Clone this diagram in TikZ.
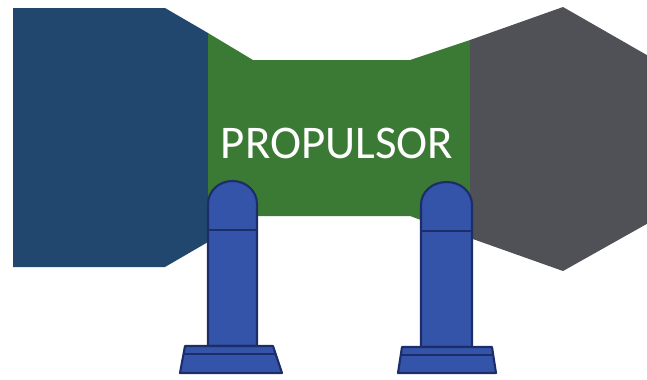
\documentclass[tikz,border=0pt]{standalone}
\usepackage{fontspec}
\setmainfont{Carlito}
\usepackage{xcolor}
\usepackage{tikz}
\definecolor{intake}{HTML}{22476F}
\definecolor{duct}{HTML}{3B7A34}
\definecolor{nozzle}{HTML}{4F5157}
\definecolor{strut}{HTML}{3354A8}
\definecolor{strutline}{HTML}{1C2D6A}
\tikzset{
  bodypart/.style={draw=none},
  strutpart/.style={fill=strut,draw=strutline,line width=1.8pt,line join=round},
  bodylabel/.style={text=white,font=\fontsize{40}{48}\selectfont,inner sep=0pt}
}

\begin{document}
\begin{tikzpicture}[x=0.03cm,y=-0.03cm]
\clip (0,0) rectangle (647,379);
% hull: intake, duct, nozzle
\fill[bodypart,intake] (13,8) -- (165,8) -- (208,33) -- (208,242) -- (165,267) -- (13,267) -- cycle;
\fill[bodypart,duct] (208,33) -- (253,60) -- (410,60) -- (470,40) -- (470,238) -- (410,216) -- (253,216) -- (208,242) -- cycle;
\fill[bodypart,nozzle] (470,40) -- (563,7) -- (652,58) -- (652,221) -- (563,271) -- (470,238) -- cycle;
\node[bodylabel] (propulsor) at (337,143) {PROPULSOR};
% left strut
\draw[strutpart] (208,346) -- (208,204) .. controls (208,191) and (219,181) .. (232.5,181)
  .. controls (246,181) and (257,191) .. (257,204) -- (257,346) -- cycle;
\draw[strutpart] (208,230) -- (257,230);
\draw[strutpart] (185,346) -- (273,346) -- (282,373) -- (180,373) -- cycle;
\draw[strutpart] (183,354) -- (275,354);
% right strut
\draw[strutpart] (421,347) -- (421,205) .. controls (421,192) and (432,182) .. (446.5,182)
  .. controls (461,182) and (472,192) .. (472,205) -- (472,347) -- cycle;
\draw[strutpart] (421,231) -- (472,231);
\draw[strutpart] (402,347) -- (492,347) -- (496,373) -- (398,373) -- cycle;
\draw[strutpart] (401,355) -- (493,355);
\end{tikzpicture}
\end{document}
